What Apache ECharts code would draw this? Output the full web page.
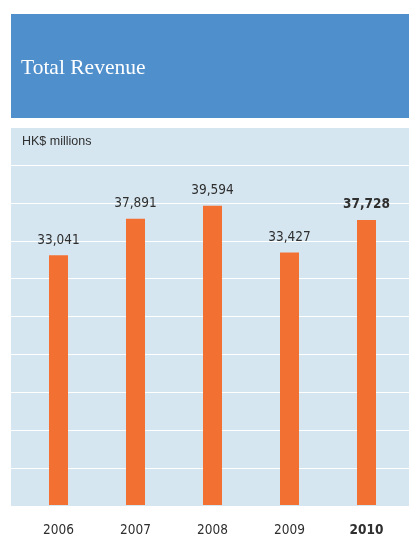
<!DOCTYPE html>
<html>
<head>
<meta charset="utf-8">
<title>Total Revenue</title>
<script src="https://cdn.jsdelivr.net/npm/echarts@6/dist/echarts.min.js"></script>
<style>
  html, body { margin: 0; padding: 0; background: #fff; }
  #chart { width: 409px; height: 537px; }
</style>
</head>
<body>
<div id="chart"></div>
<script>
// data
const years = ['2006', '2007', '2008', '2009', '2010']
const revenue = [33041, 37891, 39594, 33427, 37728]
const latestYear = '2010' // shown in bold

const axisMax = 45000
const axisStep = 5000
const barColor = '#f37033'
const textColor = '#2f2f2f'
const labelFont = '"DejaVu Sans Condensed", "Liberation Sans Narrow", sans-serif'

const chart = echarts.init(document.getElementById('chart'))

chart.setOption({
  animation: false,
  graphic: [
    { type: 'rect', shape: { x: 11, y: 14, width: 398, height: 104 }, style: { fill: '#4f8fcc' }, z: -10 },
    { type: 'rect', shape: { x: 11, y: 128, width: 398, height: 378 }, style: { fill: '#d5e6f0' }, z: -10 }
  ],
  title: [{
    text: 'Total Revenue',
    left: 16,
    top: 52,
    textStyle: { color: '#fff', fontFamily: '"Liberation Serif", serif', fontSize: 21.5, fontWeight: 'normal' }
  }, {
    text: 'HK$ millions',
    left: 17,
    top: 130,
    textStyle: { color: textColor, fontFamily: '"Liberation Sans", sans-serif', fontSize: 12.5, fontWeight: 'normal' }
  }],
  grid: [
    { left: 20, top: 165, width: 385, height: 341 }, // bars
    { left: 11, top: 165, width: 398, height: 341 } // full-width gridlines
  ],
  xAxis: [{
    type: 'category',
    gridIndex: 0,
    data: years,
    axisLine: { show: false },
    axisTick: { show: false },
    axisLabel: {
      interval: 0,
      margin: 18,
      color: textColor,
      fontFamily: labelFont,
      fontSize: 13.5,
      formatter: v => v === latestYear ? '{b|' + v + '}' : v,
      rich: { b: { fontWeight: 'bold', fontSize: 13.5, fontFamily: labelFont, color: textColor } }
    }
  }, {
    type: 'value',
    gridIndex: 1,
    show: false
  }],
  yAxis: [{
    type: 'value',
    gridIndex: 0,
    min: 0,
    max: axisMax,
    interval: axisStep,
    show: false
  }, {
    type: 'value',
    gridIndex: 1,
    min: 0,
    max: axisMax,
    interval: axisStep,
    axisLine: { show: false },
    axisTick: { show: false },
    axisLabel: { show: false },
    splitLine: { lineStyle: { color: '#ffffff', width: 1.2 } },
    z: -5
  }],
  series: [{
    type: 'bar',
    xAxisIndex: 0,
    yAxisIndex: 0,
    data: revenue.map((v, i) => ({
      value: v,
      label: years[i] === latestYear ? { fontWeight: 'bold' } : {}
    })),
    barWidth: 19,
    itemStyle: { color: barColor },
    label: {
      show: true,
      position: 'top',
      distance: 8,
      color: textColor,
      fontFamily: labelFont,
      fontSize: 13.5,
      formatter: p => p.value.toLocaleString('en-US')
    }
  }]
})
</script>
</body>
</html>
